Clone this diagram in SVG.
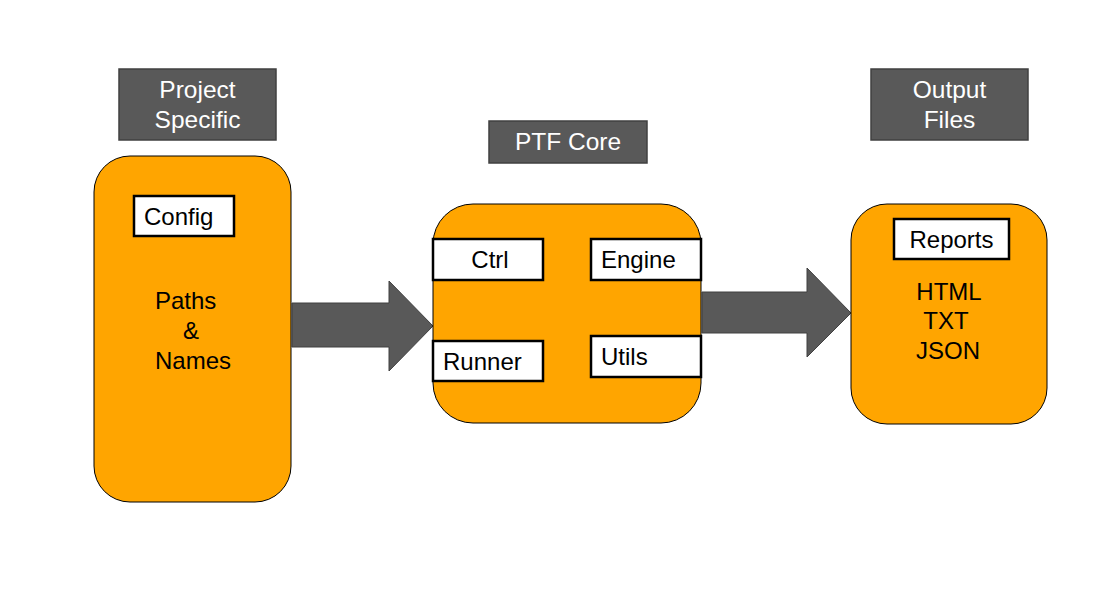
<svg xmlns="http://www.w3.org/2000/svg" width="1112" height="596" viewBox="0 0 1112 596">
<style>
.lbl{fill:#595959;stroke:#404040;stroke-width:1.5}
.lt{fill:#fff;font-family:"Liberation Sans",Arial,sans-serif;font-size:24.5px;text-anchor:middle}
.big{fill:#FFA500;stroke:#000;stroke-width:1}
.sub{fill:#fff;stroke:#000;stroke-width:2.5}
.t{fill:#000;font-family:"Liberation Sans",Arial,sans-serif;font-size:24px}
.arr{fill:#595959;stroke:#404040;stroke-width:1}
</style>
<rect width="1112" height="596" fill="#fff"/>
<g id="connectors">
<polygon class="arr" points="292,303 389,303 389,281 433,326 389,371 389,347 292,347"/>
<polygon class="arr" points="702,292 807,292 807,268 851,313 807,357 807,333 702,333"/>
</g>
<g id="label-project">
<rect class="lbl" x="119" y="69" width="157" height="71"/>
<text class="lt" x="197.5" y="98">Project</text>
<text class="lt" x="197.5" y="128">Specific</text>
</g>
<g id="label-core">
<rect class="lbl" x="489" y="121" width="158" height="42"/>
<text class="lt" x="568" y="150">PTF Core</text>
</g>
<g id="label-output">
<rect class="lbl" x="871" y="69" width="157" height="71"/>
<text class="lt" x="949.5" y="98">Output</text>
<text class="lt" x="949.5" y="128">Files</text>
</g>
<g id="project">
<rect class="big" x="94" y="156" width="197" height="346" rx="36"/>
<rect class="sub" x="134" y="196" width="100" height="40"/>
<text class="t" x="144" y="225">Config</text>
<text class="t" x="155" y="309">Paths</text>
<text class="t" x="183" y="339">&amp;</text>
<text class="t" x="155" y="369">Names</text>
</g>
<g id="core">
<rect class="big" x="433" y="204" width="268" height="219" rx="40"/>
<rect class="sub" x="433" y="239" width="110" height="41"/>
<text class="t" x="490" y="268" text-anchor="middle">Ctrl</text>
<rect class="sub" x="591" y="239" width="110" height="41"/>
<text class="t" x="601" y="268">Engine</text>
<rect class="sub" x="433" y="341" width="110" height="40"/>
<text class="t" x="443" y="370">Runner</text>
<rect class="sub" x="591" y="336" width="110" height="41"/>
<text class="t" x="601" y="365">Utils</text>
</g>
<g id="output">
<rect class="big" x="851" y="204" width="196" height="220" rx="36"/>
<rect class="sub" x="894" y="219" width="115" height="40"/>
<text class="t" x="951.5" y="248" text-anchor="middle">Reports</text>
<text class="t" x="949" y="300" text-anchor="middle">HTML</text>
<text class="t" x="946" y="329" text-anchor="middle">TXT</text>
<text class="t" x="948" y="359" text-anchor="middle">JSON</text>
</g>
</svg>
